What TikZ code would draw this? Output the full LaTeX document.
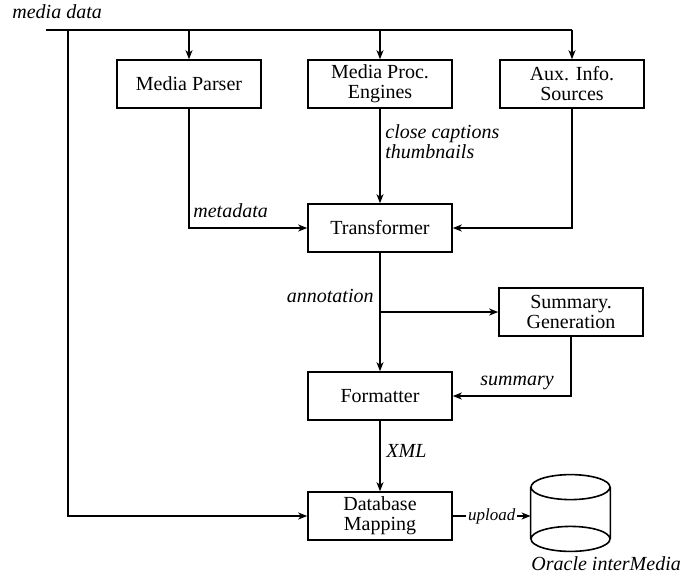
\documentclass[tikz,border=0pt]{standalone}
\usepackage{fontspec}
\setmainfont{Liberation Serif}
\usetikzlibrary{arrows.meta}
\tikzset{
  blk/.style={rectangle,draw,line width=0.8pt,minimum width=72pt,minimum height=24pt,align=center,inner sep=1pt,font=\fontsize{10}{10}\selectfont},
  lbl/.style={inner sep=0pt,font=\fontsize{10}{10}\selectfont\itshape},
  flow/.style={line width=0.8pt,-{Stealth[length=4.5pt,width=3.5pt,inset=1.3pt]}},
}
\begin{document}
\begin{tikzpicture}[x=0.5pt,y=-0.5pt]
\useasboundingbox (0,0) rectangle (681,575);
\node[lbl,anchor=base west] (media) at (12,18) {media data};
\coordinate (top) at (46,30);
\coordinate (tap) at (68,30);
\node[blk] (parser) at (189,84) {Media Parser};
\node[blk] (engines) at (380,84) {Media Proc.\\Engines};
\node[blk] (aux) at (572,84) {Aux. Info.\\Sources};
\node[blk] (trans) at (380,228) {Transformer};
\node[blk] (summ) at (571,312) {Summary.\\Generation};
\node[blk] (fmt) at (380,396) {Formatter};
\node[blk] (dbmap) at (380,516) {Database\\Mapping};
\node[minimum width=39.5pt,minimum height=38pt,inner sep=0pt] (store) at (570.5,513) {};
\draw[line width=0.8pt] ([yshift=-6.25pt]store.north) ellipse [x radius=19.75pt, y radius=6.25pt]
  ([yshift=6.25pt]store.south) ellipse [x radius=19.75pt, y radius=6.25pt]
  ([yshift=-6.25pt]store.north west) -- ([yshift=6.25pt]store.south west)
  ([yshift=-6.25pt]store.north east) -- ([yshift=6.25pt]store.south east);
\node[lbl,anchor=base west] (oracle) at (531,570) {Oracle interMedia};

\draw[line width=0.8pt] (top) -- (aux.north |- top);
\draw[flow] (parser.north |- top) -- (parser);
\draw[flow] (engines.north |- top) -- (engines);
\draw[flow] (aux.north |- top) -- (aux);
\draw[flow] (tap) |- (dbmap);

\draw[flow] (parser) |- (trans);
\node[lbl,anchor=west] (meta) at (193,211) {metadata};
\draw[flow] (engines) -- (trans);
\node[lbl,anchor=north west,align=left] (caps) at (385,124) {close captions\\thumbnails};
\draw[flow] (aux) |- (trans);

\draw[flow] (trans) -- (fmt);
\coordinate (split) at (trans.south |- summ);
\draw[flow] (split) -- (summ);
\node[lbl,anchor=east] (annot) at (374,296) {annotation};
\draw[flow] (summ) |- (fmt);
\node[lbl,anchor=west] (sumlbl) at (480,383) {summary};

\draw[flow] (fmt) -- (dbmap);
\node[lbl,anchor=west] (xml) at (386,451) {XML};
\draw[flow] (dbmap) -- (dbmap -| store.west) node[midway,fill=white,inner sep=1pt,font=\fontsize{8.5}{8.5}\selectfont\itshape] (upl) {upload};
\end{tikzpicture}
\end{document}
